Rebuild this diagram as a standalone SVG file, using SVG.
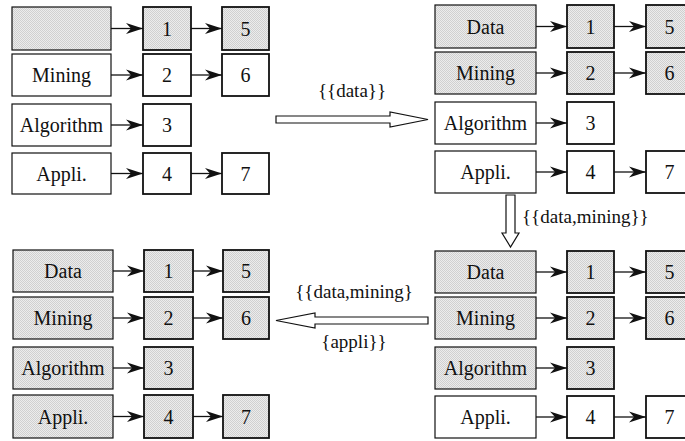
<svg xmlns="http://www.w3.org/2000/svg" width="685" height="441" viewBox="0 0 685 441" font-family="Liberation Serif, DejaVu Serif, Times New Roman, serif">
<style>
.big{stroke:#111;stroke-width:1.2}
.num{stroke:#111;stroke-width:1.8}
.sh{fill:url(#dots)}
.wh{fill:#fff}
.t{font-size:20px;fill:#111;text-anchor:middle}
.lbl{font-size:19px;fill:#111}
.ln{stroke:#111;stroke-width:1.3;fill:none;marker-end:url(#ah)}
.fat{fill:#fff;stroke:#111;stroke-width:1.2}
</style>
<defs>
<pattern id="dots" width="2" height="2" patternUnits="userSpaceOnUse">
<rect width="2" height="2" fill="#ececec"/>
<rect width="1" height="1" fill="#d0d0d0"/>
<rect x="1" y="1" width="1" height="1" fill="#d0d0d0"/>
</pattern>
<marker id="ah" markerUnits="userSpaceOnUse" markerWidth="20" markerHeight="14" viewBox="-18 -7 19 14" refX="0" refY="0" orient="auto">
<path d="M0,0 L-17,-5.5 L-12,0 L-17,5.5 Z" fill="#111"/>
</marker>
</defs>
<rect width="685" height="441" fill="#fff"/>

<g id="connectors">
<line class="ln" x1="111" y1="28.5" x2="143" y2="28.5"/>
<line class="ln" x1="191" y1="28.5" x2="222" y2="28.5"/>
<line class="ln" x1="111" y1="75" x2="143" y2="75"/>
<line class="ln" x1="191" y1="75" x2="222" y2="75"/>
<line class="ln" x1="111" y1="125" x2="143" y2="125"/>
<line class="ln" x1="111" y1="173.5" x2="143" y2="173.5"/>
<line class="ln" x1="191" y1="173.5" x2="222" y2="173.5"/>
<line class="ln" x1="536" y1="26.5" x2="567" y2="26.5"/>
<line class="ln" x1="614" y1="26.5" x2="646" y2="26.5"/>
<line class="ln" x1="536" y1="73" x2="567" y2="73"/>
<line class="ln" x1="614" y1="73" x2="646" y2="73"/>
<line class="ln" x1="536" y1="123" x2="567" y2="123"/>
<line class="ln" x1="536" y1="172" x2="567" y2="172"/>
<line class="ln" x1="614" y1="172" x2="646" y2="172"/>
<line class="ln" x1="113" y1="271" x2="144" y2="271"/>
<line class="ln" x1="193" y1="271" x2="223" y2="271"/>
<line class="ln" x1="113" y1="318" x2="144" y2="318"/>
<line class="ln" x1="193" y1="318" x2="223" y2="318"/>
<line class="ln" x1="113" y1="368" x2="144" y2="368"/>
<line class="ln" x1="113" y1="416.5" x2="144" y2="416.5"/>
<line class="ln" x1="193" y1="416.5" x2="223" y2="416.5"/>
<line class="ln" x1="536" y1="272" x2="567" y2="272"/>
<line class="ln" x1="614" y1="272" x2="646" y2="272"/>
<line class="ln" x1="536" y1="318" x2="567" y2="318"/>
<line class="ln" x1="614" y1="318" x2="646" y2="318"/>
<line class="ln" x1="536" y1="368" x2="567" y2="368"/>
<line class="ln" x1="536" y1="417" x2="567" y2="417"/>
<line class="ln" x1="614" y1="417" x2="646" y2="417"/>
<polygon class="fat" points="276,116 390,116 390,112 428,119.5 390,127 390,123 276,123"/>
<polygon class="fat" points="506,195 515,195 515,233 519,233 510.5,247 502,233 506,233"/>
<polygon class="fat" points="428,317 315,317 315,313 276,320.5 315,328 315,324 428,324"/>
<text class="lbl" x="352" y="97" text-anchor="middle">{{data}}</text>
<text class="lbl" x="522" y="223">{{data,mining}}</text>
<text class="lbl" x="354" y="298" text-anchor="middle">{{data,mining}</text>
<text class="lbl" x="354" y="348" text-anchor="middle">{appli}}</text>
</g>

<g id="tl-data"><rect class="big sh" x="12" y="7" width="99" height="43"/></g>
<g id="tl-1"><rect class="num sh" x="143" y="7" width="48" height="43"/><text class="t" x="167" y="35.5">1</text></g>
<g id="tl-5"><rect class="num sh" x="222" y="7" width="47" height="43"/><text class="t" x="245.5" y="35.5">5</text></g>
<g id="tl-mining"><rect class="big wh" x="12" y="54" width="99" height="42"/><text class="t" x="61.5" y="82">Mining</text></g>
<g id="tl-2"><rect class="num wh" x="143" y="54" width="48" height="42"/><text class="t" x="167" y="82">2</text></g>
<g id="tl-6"><rect class="num wh" x="222" y="54" width="47" height="42"/><text class="t" x="245.5" y="82">6</text></g>
<g id="tl-algorithm"><rect class="big wh" x="12" y="104" width="99" height="42"/><text class="t" x="61.5" y="132">Algorithm</text></g>
<g id="tl-3"><rect class="num wh" x="143" y="104" width="48" height="42"/><text class="t" x="167" y="132">3</text></g>
<g id="tl-appli"><rect class="big wh" x="12" y="153" width="99" height="41"/><text class="t" x="61.5" y="180.5">Appli.</text></g>
<g id="tl-4"><rect class="num wh" x="143" y="153" width="48" height="41"/><text class="t" x="167" y="180.5">4</text></g>
<g id="tl-7"><rect class="num wh" x="222" y="153" width="47" height="41"/><text class="t" x="245.5" y="180.5">7</text></g>

<g id="tr-data"><rect class="big sh" x="435" y="5" width="101" height="43"/><text class="t" x="485.5" y="33.5">Data</text></g>
<g id="tr-1"><rect class="num sh" x="567" y="5" width="47" height="43"/><text class="t" x="590.5" y="33.5">1</text></g>
<g id="tr-5"><rect class="num sh" x="646" y="5" width="47" height="43"/><text class="t" x="669.5" y="33.5">5</text></g>
<g id="tr-mining"><rect class="big sh" x="435" y="52" width="101" height="42"/><text class="t" x="485.5" y="80">Mining</text></g>
<g id="tr-2"><rect class="num sh" x="567" y="52" width="47" height="42"/><text class="t" x="590.5" y="80">2</text></g>
<g id="tr-6"><rect class="num sh" x="646" y="52" width="47" height="42"/><text class="t" x="669.5" y="80">6</text></g>
<g id="tr-algorithm"><rect class="big wh" x="435" y="102" width="101" height="42"/><text class="t" x="485.5" y="130">Algorithm</text></g>
<g id="tr-3"><rect class="num wh" x="567" y="102" width="47" height="42"/><text class="t" x="590.5" y="130">3</text></g>
<g id="tr-appli"><rect class="big wh" x="435" y="151" width="101" height="42"/><text class="t" x="485.5" y="179">Appli.</text></g>
<g id="tr-4"><rect class="num wh" x="567" y="151" width="47" height="42"/><text class="t" x="590.5" y="179">4</text></g>
<g id="tr-7"><rect class="num wh" x="646" y="151" width="47" height="42"/><text class="t" x="669.5" y="179">7</text></g>

<g id="bl-data"><rect class="big sh" x="13" y="250" width="100" height="42"/><text class="t" x="63" y="278">Data</text></g>
<g id="bl-1"><rect class="num sh" x="144" y="250" width="49" height="42"/><text class="t" x="168.5" y="278">1</text></g>
<g id="bl-5"><rect class="num sh" x="223" y="250" width="46" height="42"/><text class="t" x="246" y="278">5</text></g>
<g id="bl-mining"><rect class="big sh" x="13" y="297" width="100" height="42"/><text class="t" x="63" y="325">Mining</text></g>
<g id="bl-2"><rect class="num sh" x="144" y="297" width="49" height="42"/><text class="t" x="168.5" y="325">2</text></g>
<g id="bl-6"><rect class="num sh" x="223" y="297" width="46" height="42"/><text class="t" x="246" y="325">6</text></g>
<g id="bl-algorithm"><rect class="big sh" x="13" y="347" width="100" height="42"/><text class="t" x="63" y="375">Algorithm</text></g>
<g id="bl-3"><rect class="num sh" x="144" y="347" width="49" height="42"/><text class="t" x="168.5" y="375">3</text></g>
<g id="bl-appli"><rect class="big sh" x="13" y="395" width="100" height="43"/><text class="t" x="63" y="423.5">Appli.</text></g>
<g id="bl-4"><rect class="num sh" x="144" y="395" width="49" height="43"/><text class="t" x="168.5" y="423.5">4</text></g>
<g id="bl-7"><rect class="num sh" x="223" y="395" width="46" height="43"/><text class="t" x="246" y="423.5">7</text></g>

<g id="br-data"><rect class="big sh" x="435" y="251" width="101" height="42"/><text class="t" x="485.5" y="279">Data</text></g>
<g id="br-1"><rect class="num sh" x="567" y="251" width="47" height="42"/><text class="t" x="590.5" y="279">1</text></g>
<g id="br-5"><rect class="num sh" x="646" y="251" width="47" height="42"/><text class="t" x="669.5" y="279">5</text></g>
<g id="br-mining"><rect class="big sh" x="435" y="297" width="101" height="42"/><text class="t" x="485.5" y="325">Mining</text></g>
<g id="br-2"><rect class="num sh" x="567" y="297" width="47" height="42"/><text class="t" x="590.5" y="325">2</text></g>
<g id="br-6"><rect class="num sh" x="646" y="297" width="47" height="42"/><text class="t" x="669.5" y="325">6</text></g>
<g id="br-algorithm"><rect class="big sh" x="435" y="347" width="101" height="42"/><text class="t" x="485.5" y="375">Algorithm</text></g>
<g id="br-3"><rect class="num sh" x="567" y="347" width="47" height="42"/><text class="t" x="590.5" y="375">3</text></g>
<g id="br-appli"><rect class="big wh" x="435" y="396" width="101" height="42"/><text class="t" x="485.5" y="424">Appli.</text></g>
<g id="br-4"><rect class="num wh" x="567" y="396" width="47" height="42"/><text class="t" x="590.5" y="424">4</text></g>
<g id="br-7"><rect class="num wh" x="646" y="396" width="47" height="42"/><text class="t" x="669.5" y="424">7</text></g>
</svg>
